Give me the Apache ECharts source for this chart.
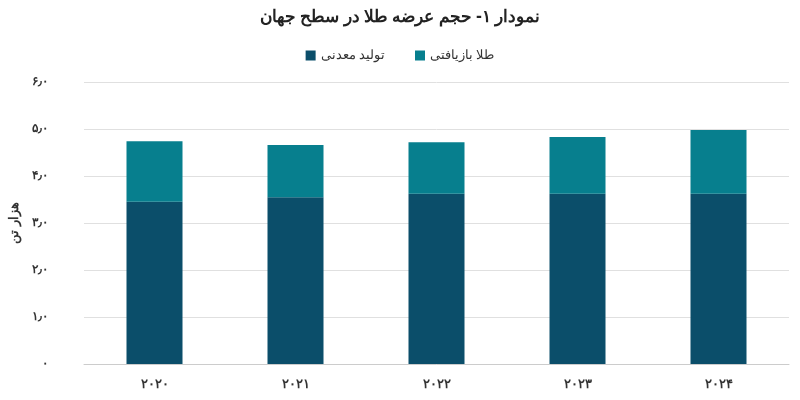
<!DOCTYPE html>
<html><head><meta charset="utf-8">
<script src="https://cdn.jsdelivr.net/npm/echarts@6/dist/echarts.min.js"></script>
<style>html,body{margin:0;padding:0;background:#fff}#c{width:800px;height:400px}</style>
</head><body><div id="c"></div>
<script>
var years = ['۲۰۲۰', '۲۰۲۱', '۲۰۲۲', '۲۰۲۳', '۲۰۲۴'];
var mined = [3.45, 3.55, 3.62, 3.62, 3.62];
var recycled = [1.29, 1.11, 1.10, 1.21, 1.36];
var fa = ['۰','۱','۲','۳','۴','۵','۶','۷','۸','۹'];
function toFa(v) {
    if (v === 0) return '۰';
    return v.toFixed(1).replace(/\d/g, function (d) { return fa[d]; }).replace('.', '٫');
}
var chart = echarts.init(document.getElementById('c'));
chart.setOption({
    textStyle: { fontFamily: 'Noto Sans' },
    title: {
        text: 'نمودار ۱- حجم عرضه طلا در سطح جهان',
        left: 'center', top: 4,
        textStyle: { fontSize: 17, fontWeight: 'bold', color: '#222' }
    },
    legend: {
        top: 44, left: 'center', itemWidth: 10, itemHeight: 10, itemGap: 30, icon: 'rect',
        textStyle: { fontSize: 13, color: '#333' },
        data: ['تولید معدنی', 'طلا بازیافتی']
    },
    grid: { left: 84, right: 11, top: 82, bottom: 36 },
    xAxis: {
        type: 'category', data: years,
        axisLine: { lineStyle: { color: '#ccc' } }, axisTick: { show: false },
        axisLabel: { fontSize: 13, fontWeight: 'bold', color: '#333', margin: 14 }
    },
    yAxis: {
        type: 'value', min: 0, max: 6, interval: 1,
        name: 'هزار تن', nameLocation: 'middle', nameGap: 58, nameRotate: 90,
        nameTextStyle: { fontSize: 13, fontWeight: 'bold', color: '#333' },
        axisLabel: { formatter: toFa, fontSize: 12, fontWeight: 'bold', color: '#333', margin: 36 },
        splitLine: { lineStyle: { color: '#e0e0e0' } }
    },
    series: [
        { name: 'تولید معدنی', type: 'bar', stack: 't', data: mined, barWidth: 56, itemStyle: { color: '#0b4e6a' } },
        { name: 'طلا بازیافتی', type: 'bar', stack: 't', data: recycled, barWidth: 56, itemStyle: { color: '#077f8e' } }
    ]
});
</script></body></html>
